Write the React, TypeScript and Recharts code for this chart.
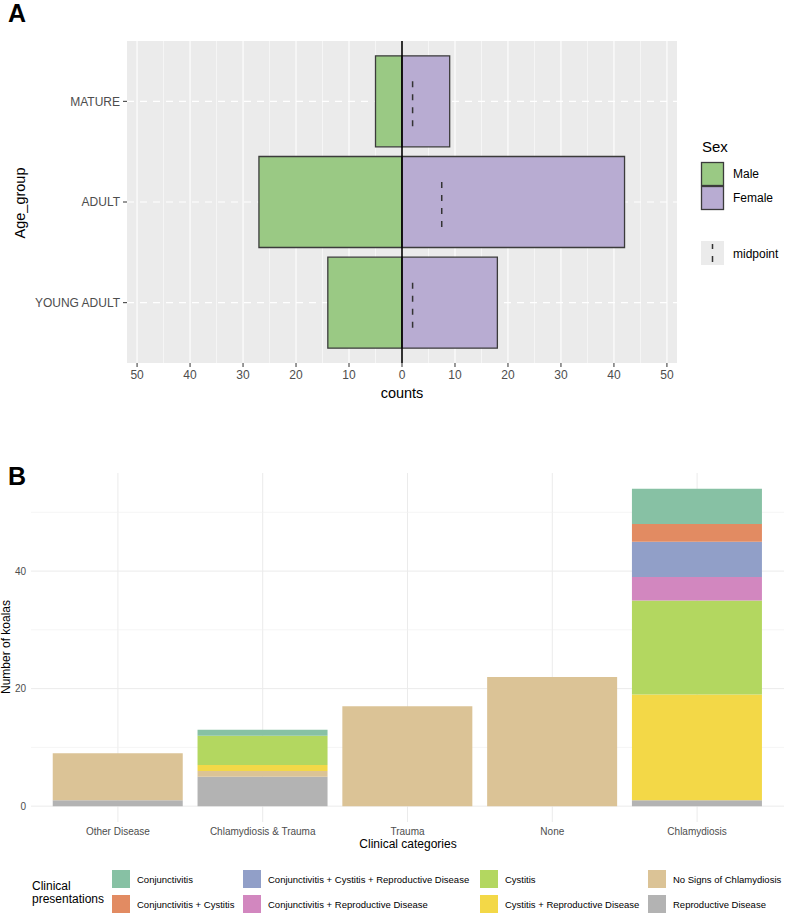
import React from 'react';
import {
  BarChart,
  Bar,
  XAxis,
  YAxis,
  CartesianGrid,
  ReferenceLine,
  Rectangle,
} from 'recharts';

// ---- Panel A: age pyramid ----
const ageGroups = ['MATURE', 'ADULT', 'YOUNG ADULT'];
const maleCounts = [5, 27, 14];
const femaleCounts = [9, 42, 18];
const midpoints = [2, 7.5, 2];
const countTicks = [-50, -40, -30, -20, -10, 0, 10, 20, 30, 40, 50];
const countMinorTicks = [-45, -35, -25, -15, -5, 5, 15, 25, 35, 45];
const sexLabels = ['Male', 'Female'];

// ---- Panel B: clinical presentations ----
const clinicalCategories = ['Other Disease', 'Chlamydiosis & Trauma', 'Trauma', 'None', 'Chlamydiosis'];
const conjunctivitis = [0, 1, 0, 0, 6];
const conjCystitis = [0, 0, 0, 0, 3];
const conjCystitisRepro = [0, 0, 0, 0, 6];
const conjRepro = [0, 0, 0, 0, 4];
const cystitis = [0, 5, 0, 0, 16];
const cystitisRepro = [0, 1, 0, 0, 18];
const noSigns = [8, 1, 17, 22, 0];
const reproDisease = [1, 5, 0, 0, 1];
const koalaTicks = [0, 20, 40];
const koalaMinorTicks = [10, 30, 50];

const FONT = '"Liberation Sans", Arial, Helvetica, sans-serif';
const MALE = '#9AC984';
const FEMALE = '#B8ACD2';
const OUTLINE = '#3B3B3B';

const pyramidRows = ageGroups.map((g, i) => ({
  group: g,
  male: -maleCounts[i],
  female: femaleCounts[i],
  mid: midpoints[i],
}));

// legend order (column-wise), stacked bottom-to-top in reverse
const presentations = [
  { key: 'Conjunctivitis', values: conjunctivitis, color: '#87C1A4' },
  { key: 'Conjunctivitis + Cystitis', values: conjCystitis, color: '#E28B62' },
  { key: 'Conjunctivitis + Cystitis + Reproductive Disease', values: conjCystitisRepro, color: '#919FC8' },
  { key: 'Conjunctivitis + Reproductive Disease', values: conjRepro, color: '#D287BF' },
  { key: 'Cystitis', values: cystitis, color: '#B3D760' },
  { key: 'Cystitis + Reproductive Disease', values: cystitisRepro, color: '#F3D847' },
  { key: 'No Signs of Chlamydiosis', values: noSigns, color: '#DBC396' },
  { key: 'Reproductive Disease', values: reproDisease, color: '#B3B3B3' },
];

const clinicalRows = clinicalCategories.map((c, i) => {
  const row: Record<string, any> = { cat: c };
  presentations.forEach((p) => {
    row[p.key] = p.values[i];
  });
  return row;
});

// Female bar with the dashed midpoint marker drawn across its middle half
const FemaleBar = (props: any) => {
  const { x, y, width, height, payload } = props;
  const midX = x + width * (payload.mid / payload.female);
  const cy = y + height / 2;
  const half = height * 0.275;
  return (
    <g>
      <Rectangle x={x} y={y} width={width} height={height} fill={FEMALE} stroke={OUTLINE} strokeWidth={1.3} />
      <line x1={midX} x2={midX} y1={cy + half} y2={cy - half} stroke="#333" strokeWidth={1.5} strokeDasharray="6 7" />
    </g>
  );
};

const PyramidPanel = () => (
  <BarChart
    width={786}
    height={420}
    data={pyramidRows}
    layout="vertical"
    stackOffset="sign"
    barCategoryGap="4.8%"
    margin={{ top: 41, right: 109, bottom: 27, left: 7 }}
    style={{ fontFamily: FONT }}
  >
    <CartesianGrid fill="#EBEBEB" horizontal={false} stroke="#FFFFFF" strokeWidth={1.1} syncWithTicks />
    <CartesianGrid xAxisId="minor" horizontal={false} stroke="#FFFFFF" strokeWidth={0.55} syncWithTicks />
    <CartesianGrid vertical={false} stroke="#FFFFFF" strokeWidth={1.2} strokeDasharray="7 6" syncWithTicks />
    <XAxis
      type="number"
      domain={[-51.9, 51.9]}
      ticks={countTicks}
      tickFormatter={(v: number) => String(Math.abs(v))}
      axisLine={false}
      tickLine={{ stroke: '#333', strokeWidth: 1 }}
      tickSize={4}
      tickMargin={3}
      height={30}
      tick={{ fill: '#4D4D4D', fontSize: 12 }}
      allowDataOverflow
    />
    <XAxis xAxisId="minor" type="number" domain={[-51.9, 51.9]} ticks={countMinorTicks} hide allowDataOverflow />
    <YAxis
      type="category"
      dataKey="group"
      width={120}
      padding={{ top: 10, bottom: 10 }}
      axisLine={false}
      tickLine={{ stroke: '#333', strokeWidth: 1 }}
      tickSize={4}
      tickMargin={3}
      tick={{ fill: '#4D4D4D', fontSize: 12 }}
    />
    <Bar dataKey="male" stackId="s" fill={MALE} stroke={OUTLINE} strokeWidth={1.3} isAnimationActive={false} />
    <Bar dataKey="female" stackId="s" fill={FEMALE} shape={FemaleBar} isAnimationActive={false} />
    <ReferenceLine x={0} stroke="#000" strokeWidth={1.6} />
  </BarChart>
);

const ClinicalPanel = () => (
  <BarChart
    width={786}
    height={420}
    data={clinicalRows}
    barCategoryGap="5%"
    margin={{ top: 33, right: 2, bottom: 18, left: 6 }}
    style={{ fontFamily: FONT }}
  >
    <CartesianGrid stroke="#EBEBEB" strokeWidth={1} syncWithTicks />
    <CartesianGrid yAxisId="minor" vertical={false} stroke="#F0F0F0" strokeWidth={0.7} syncWithTicks />
    <XAxis
      dataKey="cat"
      padding={{ left: 14.5, right: 14.5 }}
      axisLine={false}
      tickLine={false}
      tickSize={0}
      tickMargin={5.5}
      height={20}
      interval={0}
      tick={{ fill: '#4D4D4D', fontSize: 10 }}
    />
    <YAxis
      type="number"
      domain={[-2.7, 56.7]}
      ticks={koalaTicks}
      axisLine={false}
      tickLine={false}
      tickSize={0}
      tickMargin={5}
      width={25}
      tick={{ fill: '#4D4D4D', fontSize: 10 }}
      allowDataOverflow
    />
    <YAxis yAxisId="minor" type="number" domain={[-2.7, 56.7]} ticks={koalaMinorTicks} hide allowDataOverflow />
    {[...presentations].reverse().map((p) => (
      <Bar key={p.key} dataKey={p.key} stackId="c" fill={p.color} isAnimationActive={false} />
    ))}
  </BarChart>
);

const legendCols = [112, 243, 480, 648];
const legendRows = [870, 895];

export default function App() {
  return (
    <div style={{ position: 'absolute', left: 0, top: 0, width: 786, height: 914, background: '#fff', fontFamily: FONT }}>
      <div style={{ position: 'absolute', left: 0, top: 0 }}>
        <PyramidPanel />
      </div>
      <div style={{ position: 'absolute', left: 0, top: 440 }}>
        <ClinicalPanel />
      </div>
      <svg width={786} height={914} style={{ position: 'absolute', left: 0, top: 0, pointerEvents: 'none' }} fontFamily={FONT}>
        {/* panel letters */}
        <text x={8} y={22} fontSize={25} fontWeight="bold" fill="#000">A</text>
        <text x={8} y={485} fontSize={25} fontWeight="bold" fill="#000">B</text>

        {/* panel A axis titles */}
        <text x={402} y={398} fontSize={14.5} textAnchor="middle" fill="#000">counts</text>
        <text transform="translate(25,203) rotate(-90)" fontSize={14.5} textAnchor="middle" fill="#000">Age_group</text>

        {/* panel A legend */}
        <text x={702} y={152} fontSize={15} fill="#000">Sex</text>
        {sexLabels.map((s, i) => (
          <g key={s}>
            <rect x={701.5} y={162.5 + i * 24} width={22} height={23} fill={i === 0 ? MALE : FEMALE} stroke={OUTLINE} strokeWidth={1.3} />
            <text x={733} y={174 + i * 24} fontSize={12} dominantBaseline="central" fill="#000">{s}</text>
          </g>
        ))}
        <rect x={701} y={241} width={23} height={24} fill="#EBEBEB" />
        <line x1={712.5} x2={712.5} y1={262} y2={244} stroke="#333" strokeWidth={1.5} strokeDasharray="6 7" />
        <text x={733} y={254} fontSize={12} dominantBaseline="central" fill="#000">midpoint</text>

        {/* panel B axis titles */}
        <text x={408} y={848} fontSize={12} textAnchor="middle" fill="#000">Clinical categories</text>
        <text transform="translate(10,647) rotate(-90)" fontSize={12} textAnchor="middle" fill="#000">Number of koalas</text>

        {/* panel B legend */}
        <text x={32} y={890} fontSize={12} fill="#000">Clinical</text>
        <text x={32} y={903} fontSize={12} fill="#000">presentations</text>
        {presentations.map((p, i) => {
          const col = Math.floor(i / 2);
          const row = i % 2;
          const kx = legendCols[col];
          const ky = legendRows[row];
          return (
            <g key={p.key}>
              <rect x={kx} y={ky} width={18} height={18} fill={p.color} />
              <text x={kx + 25} y={ky + 9} fontSize={9.5} dominantBaseline="central" fill="#000">{p.key}</text>
            </g>
          );
        })}
      </svg>
    </div>
  );
}
